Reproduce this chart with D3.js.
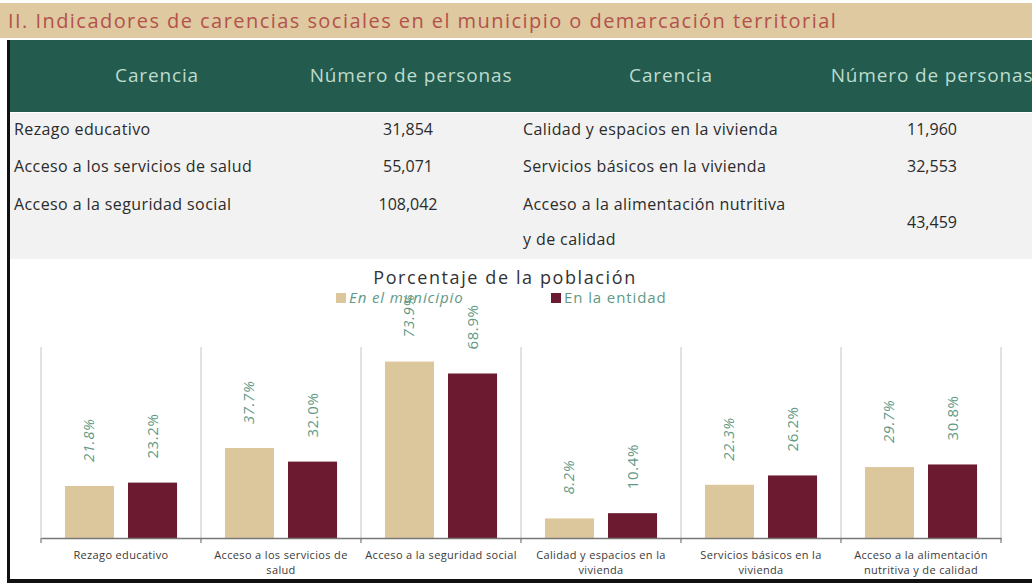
<!DOCTYPE html>
<html>
<head>
<meta charset="utf-8">
<script src="https://cdn.jsdelivr.net/npm/d3@7"></script>
<style>
  body { margin: 0; background: #fff; }
  svg { display: block; font-family: "Open Sans", sans-serif; }
</style>
</head>
<body>
<svg width="1032" height="588"></svg>
<script>
// Table data
var carenciasIzq = ["Rezago educativo", "Acceso a los servicios de salud", "Acceso a la seguridad social"];
var personasIzq = ["31,854", "55,071", "108,042"];
var carenciasDer = ["Calidad y espacios en la vivienda", "Servicios básicos en la vivienda", "Acceso a la alimentación nutritiva|y de calidad"];
var personasDer = ["11,960", "32,553", "43,459"];

// Chart data
var categories = ["Rezago educativo", "Acceso a los servicios de salud", "Acceso a la seguridad social",
	"Calidad y espacios en la vivienda", "Servicios básicos en la vivienda", "Acceso a la alimentación nutritiva y de calidad"];
var municipio = [21.8, 37.7, 73.9, 8.2, 22.3, 29.7];
var entidad = [23.2, 32.0, 68.9, 10.4, 26.2, 30.8];
var series = ["En el municipio", "En la entidad"];

var beige = "#dcc69c", maroon = "#6b1a2f", green = "#235b4e", labelGreen = "#5f9985";

var svg = d3.select("svg");

// Title band
svg.append("rect").attr("x", 0).attr("y", 3).attr("width", 1032).attr("height", 35).attr("fill", "#dfc9a0");
svg.append("text").attr("x", 8).attr("y", 28)
	.attr("fill", "#b3524c").style("font-size", "20px").style("letter-spacing", "1.45px")
	.text("II. Indicadores de carencias sociales en el municipio o demarcación territorial");

// Header
svg.append("rect").attr("x", 8).attr("y", 40).attr("width", 1024).attr("height", 72).attr("fill", green);
var headers = [["Carencia", 157], ["Número de personas", 411], ["Carencia", 671], ["Número de personas", 932]];
svg.selectAll(".hdr").data(headers).enter().append("text")
	.attr("class", "hdr")
	.attr("x", (d) => d[1]).attr("y", 82)
	.attr("text-anchor", "middle")
	.attr("fill", "#bddccd").style("font-size", "19px").style("letter-spacing", "0.85px")
	.text((d) => d[0]);

// Table body
svg.append("rect").attr("x", 8).attr("y", 113).attr("width", 1024).attr("height", 146).attr("fill", "#f2f2f2");
var rowY = [135, 172, 210];

svg.selectAll(".izq").data(carenciasIzq).enter().append("text")
	.attr("x", 14).attr("y", (d, i) => rowY[i])
	.attr("fill", "#2b2b2b").style("font-size", "16px").style("letter-spacing", "0.4px")
	.text((d) => d);
svg.selectAll(".pizq").data(personasIzq).enter().append("text")
	.attr("x", 408).attr("y", (d, i) => rowY[i])
	.attr("text-anchor", "middle")
	.attr("fill", "#2b2b2b").style("font-size", "16px")
	.text((d) => d);

carenciasDer.forEach(function (d, i) {
	var parts = d.split("|");
	var t = svg.append("text").attr("x", 523).attr("y", rowY[i])
		.attr("fill", "#2b2b2b").style("font-size", "16px").style("letter-spacing", "0.4px");
	parts.forEach(function (p, j) {
		t.append("tspan").attr("x", 523).attr("y", rowY[i] + j * 35).text(p);
	});
	svg.append("text")
		.attr("x", 932).attr("y", parts.length > 1 ? 228 : rowY[i])
		.attr("text-anchor", "middle")
		.attr("fill", "#2b2b2b").style("font-size", "16px")
		.text(personasDer[i]);
});

// Borders
svg.append("rect").attr("x", 7).attr("y", 40).attr("width", 3).attr("height", 543).attr("fill", "#111");
svg.append("rect").attr("x", 7).attr("y", 579).attr("width", 1025).attr("height", 4).attr("fill", "#111");

// Chart title + legend
svg.append("text").attr("x", 505).attr("y", 284)
	.attr("text-anchor", "middle").attr("fill", "#333")
	.style("font-size", "18px").style("letter-spacing", "1.6px")
	.text("Porcentaje de la población");

var legend = svg.selectAll(".leg").data(series).enter().append("g")
	.attr("transform", (d, i) => "translate(" + (i == 0 ? 336 : 551) + ",293)");
legend.append("rect").attr("width", 10).attr("height", 10)
	.attr("fill", (d, i) => i == 0 ? beige : maroon);
legend.append("text").attr("x", 13).attr("y", 10)
	.attr("fill", labelGreen).style("font-size", "15px").style("letter-spacing", "0.9px")
	.style("font-style", (d, i) => i == 0 ? "italic" : "normal")
	.text((d) => d);

// Scales
var x0 = d3.scaleBand().domain(categories).range([41, 1001]);
var x1 = d3.scaleBand().domain(series).range([0, x0.bandwidth()])
	.paddingInner(0.222).paddingOuter(0.38);
var y = d3.scaleLinear().domain([0, 80]).range([538, 347]);

// Vertical separators
var bounds = categories.map((d) => x0(d)).concat([x0.range()[1]]);
svg.append("g").selectAll("line").data(bounds).enter().append("line")
	.attr("x1", (d) => d).attr("x2", (d) => d)
	.attr("y1", y(80)).attr("y2", y(0))
	.attr("stroke", "#d9d9d9").attr("stroke-width", 1.5);

// Bars
var rows = categories.map((c, i) => ({ cat: c, vals: [municipio[i], entidad[i]] }));
var grp = svg.append("g").selectAll("g").data(rows).enter().append("g")
	.attr("transform", (d) => "translate(" + x0(d.cat) + ",0)");

grp.selectAll("rect").data((d) => d.vals).enter().append("rect")
	.attr("x", (d, i) => x1(series[i]))
	.attr("y", (d) => y(d))
	.attr("width", x1.bandwidth())
	.attr("height", (d) => y(0) - y(d))
	.attr("fill", (d, i) => i == 0 ? beige : maroon);

// Value labels
grp.selectAll("text").data((d) => d.vals).enter().append("text")
	.attr("transform", (d, i) => "translate(" + (x1(series[i]) + x1.bandwidth() / 2 + 5) + "," + (y(d) - 24) + ") rotate(-90)")
	.attr("fill", labelGreen).style("font-size", "15px").style("letter-spacing", "0.6px")
	.style("font-style", (d, i) => i == 0 ? "italic" : "normal")
	.text((d) => d.toFixed(1) + "%");

// X axis
var xAxis = svg.append("g").attr("transform", "translate(0," + y(0) + ")")
	.call(d3.axisBottom(x0).tickSize(0).tickPadding(13));
xAxis.select(".domain").attr("stroke", "#777").attr("stroke-width", 1.5);
xAxis.selectAll(".tick text").attr("fill", "#3a3a3a").style("font-size", "11px")
	.style("font-family", "'Open Sans', sans-serif").style("letter-spacing", "0.35px")
	.call(wrap, 158);
svg.append("g").selectAll("line").data(bounds).enter().append("line")
	.attr("x1", (d) => d).attr("x2", (d) => d)
	.attr("y1", y(0)).attr("y2", y(0) + 5)
	.attr("stroke", "#777").attr("stroke-width", 1.2);

// Wrap long tick labels onto two lines
function wrap(text, width) {
	text.each(function () {
		var t = d3.select(this),
			words = t.text().split(/\s+/).reverse(),
			word, line = [], lineNumber = 0,
			yy = t.attr("y"), dy = parseFloat(t.attr("dy")),
			tspan = t.text(null).append("tspan").attr("x", 0).attr("y", yy).attr("dy", dy + "em");
		while ((word = words.pop())) {
			line.push(word);
			tspan.text(line.join(" "));
			if (tspan.node().getComputedTextLength() > width && line.length > 1) {
				line.pop();
				tspan.text(line.join(" "));
				line = [word];
				tspan = t.append("tspan").attr("x", 0).attr("y", yy)
					.attr("dy", (++lineNumber * 1.35 + dy) + "em").text(word);
			}
		}
	});
}
</script>
</body>
</html>
